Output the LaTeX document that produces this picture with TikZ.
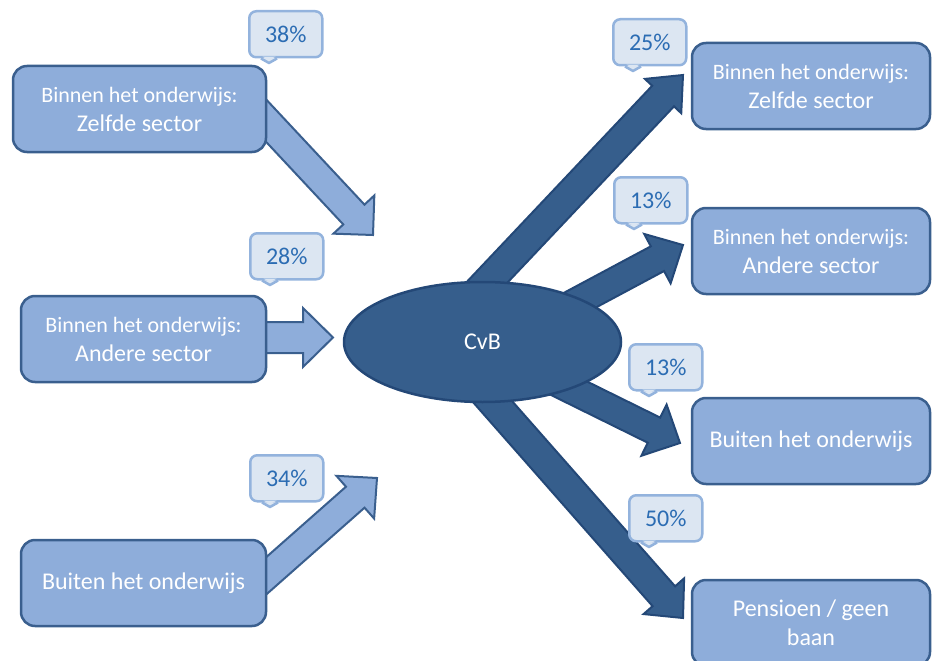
\documentclass[tikz,border=0pt]{standalone}
\usepackage{fontspec}
\setmainfont{Carlito}
\usetikzlibrary{calc,shapes.geometric}
\definecolor{boxfill}{HTML}{8EADDA}
\definecolor{boxline}{HTML}{3A5F8E}
\definecolor{darkfill}{HTML}{365E8C}
\definecolor{darkline}{HTML}{244877}
\definecolor{callfill}{HTML}{DCE6F2}
\definecolor{callline}{HTML}{93B3DD}
\definecolor{calltext}{HTML}{2B6CB3}
% #1 style, #2 start, #3 tip, #4 half shaft, #5 half head, #6 head length, #7 id
\newcommand\blockarrow[7]{%
  \coordinate (#7h) at ($(#3)!#6!(#2)$);
  \draw[#1] ($(#2)!#4!-90:(#3)$) -- ($(#7h)!#4!-90:(#3)$) -- ($(#7h)!#5!-90:(#3)$)
    -- (#3) -- ($(#7h)!#5!90:(#3)$) -- ($(#7h)!#4!90:(#3)$) -- ($(#2)!#4!90:(#3)$) -- cycle;}
% callout: #1 name, #2 left, #3 top, #4 text
\newcommand\callout[4]{%
  \node[callbox, anchor=north west] (#1) at (#2,#3) {#4};
  \draw[callline, line width=2.5pt, fill=callfill, line join=round]
    ([xshift=-8pt]#1.south west -| {#2+21},0) -- ({#2+21},{#3+53}) -- ([xshift=8pt]#1.south west -| {#2+21},0);
  \fill[callfill] ([xshift=-6.5pt,yshift=1.8pt]#1.south west -| {#2+21},0) -- ({#2+21},{#3+50}) -- ([xshift=6.5pt,yshift=1.8pt]#1.south west -| {#2+21},0) -- cycle;}
\tikzset{
  box/.style={draw=boxline, fill=boxfill, line width=2.5pt, rounded corners=14pt,
    text=white, align=center, inner sep=0pt, minimum height=86pt,
    font=\fontsize{24}{29}\selectfont},
  lightarrow/.style={draw=boxline, fill=boxfill, line width=2pt},
  darkarrow/.style={draw=darkline, fill=darkfill, line width=2pt},
  callbox/.style={draw=callline, fill=callfill, line width=2.5pt, rounded corners=7pt,
    minimum width=73pt, minimum height=46pt, inner sep=0pt, text=calltext,
    font=\fontsize{24}{29}\selectfont},
}
\newcommand\sm[1]{{\fontsize{22}{29}\selectfont #1}}
\begin{document}
\begin{tikzpicture}[x=1pt,y=-1pt]
\useasboundingbox (0,0) rectangle (932,661);
\clip (0,0) rectangle (932,661);
% light arrows
\coordinate (a1s) at (230,82);  \coordinate (a1t) at (373,235);
\coordinate (a2s) at (250,337.5); \coordinate (a2t) at (333,337.5);
\coordinate (a3s) at (240,599); \coordinate (a3t) at (377,478);
\blockarrow{lightarrow}{a1s}{a1t}{14.5pt}{28pt}{28pt}{a1}
\blockarrow{lightarrow}{a2s}{a2t}{15.5pt}{29.5pt}{30pt}{a2}
\blockarrow{lightarrow}{a3s}{a3t}{14pt}{28.5pt}{29pt}{a3}
% left boxes
\node[box, minimum width=253pt] (l1) at (139.5,109) {\sm{Binnen het onderwijs:}\\Zelfde sector};
\node[box, minimum width=245pt] (l2) at (143.5,339) {\sm{Binnen het onderwijs:}\\Andere sector};
\node[box, minimum width=245pt] (l3) at (143.5,583) {Buiten het onderwijs};
% right boxes
\node[box, minimum width=238pt] (r1) at (811,86) {\sm{Binnen het onderwijs:}\\Zelfde sector};
\node[box, minimum width=238pt] (r2) at (811,251) {\sm{Binnen het onderwijs:}\\Andere sector};
\node[box, minimum width=238pt] (r3) at (811,441) {Buiten het onderwijs};
\node[box, minimum width=238pt] (r4) at (811,623) {Pensioen / geen\\baan};
% dark arrows
\coordinate (b1s) at (459,312); \coordinate (b1t) at (683,75);
\coordinate (b2s) at (540,321.5); \coordinate (b2t) at (683,245);
\coordinate (b3s) at (534,371); \coordinate (b3t) at (680,443);
\coordinate (b4s) at (470,376); \coordinate (b4t) at (683,618);
\blockarrow{darkarrow}{b1s}{b1t}{15pt}{25pt}{29pt}{b1}
\blockarrow{darkarrow}{b2s}{b2t}{14pt}{28pt}{29pt}{b2}
\blockarrow{darkarrow}{b3s}{b3t}{14pt}{28.5pt}{29pt}{b3}
\blockarrow{darkarrow}{b4s}{b4t}{15pt}{27pt}{29pt}{b4}
% ellipse
\node[ellipse, draw=darkline, fill=darkfill, line width=2.5pt, minimum width=277pt,
  minimum height=120pt, inner sep=0pt, text=white, font=\fontsize{24}{29}\selectfont]
  (cvb) at (482.5,342) {CvB};
% callouts
\callout{c1}{248}{10}{38\%}
\callout{c2}{249}{232}{28\%}
\callout{c3}{249}{454}{34\%}
\callout{c4}{612}{18}{25\%}
\callout{c5}{613}{176}{13\%}
\callout{c6}{628}{343}{13\%}
\callout{c7}{628}{494}{50\%}
\end{tikzpicture}
\end{document}
